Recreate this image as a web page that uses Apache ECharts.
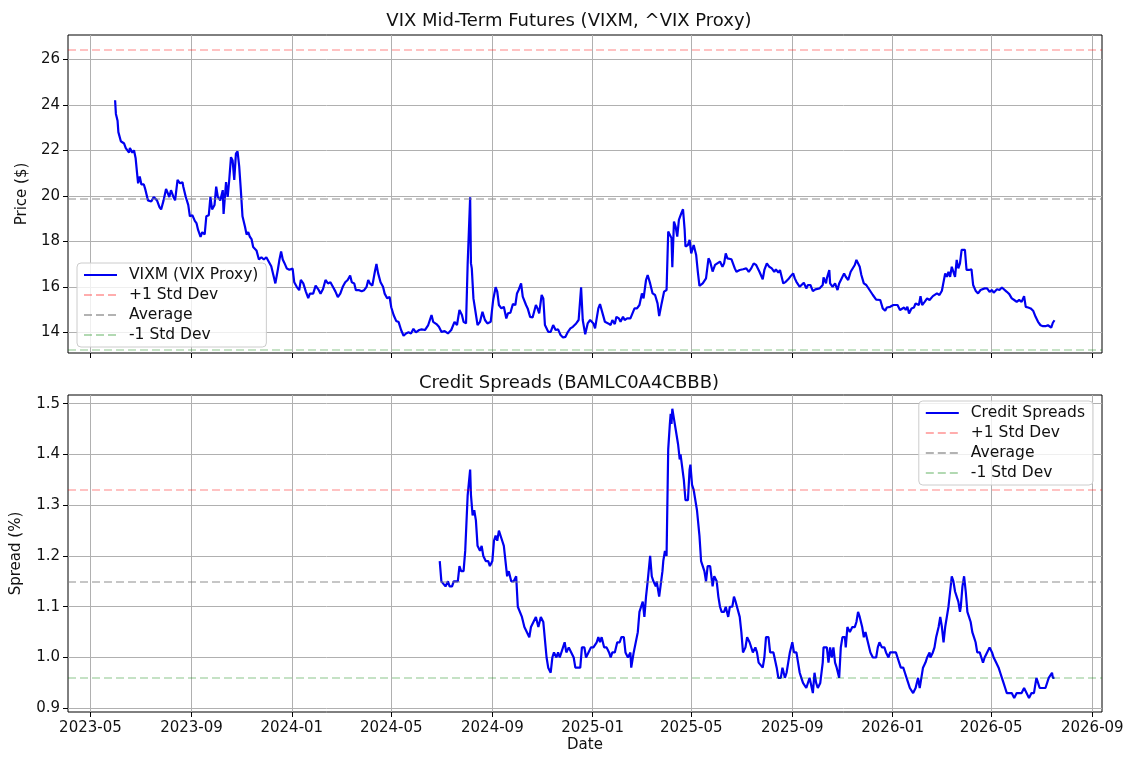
<!DOCTYPE html>
<html>
<head>
<meta charset="utf-8">
<title>VIXM and Credit Spreads</title>
<script src="https://cdn.jsdelivr.net/npm/echarts@6/dist/echarts.min.js"></script>
<style>
  html, body { margin: 0; padding: 0; background: #fff; }
  #chart { width: 1138px; height: 762px; }
</style>
</head>
<body>
<div id="chart"></div>
<script>
// VIXM closing prices (one line per month)
const vixmDates = [
  '2023-05-31',
  '2023-06-01','2023-06-03','2023-06-04','2023-06-07','2023-06-11','2023-06-13','2023-06-17','2023-06-18','2023-06-21','2023-06-23','2023-06-25','2023-06-27','2023-06-28','2023-06-30',
  '2023-07-02','2023-07-05','2023-07-07','2023-07-10','2023-07-14','2023-07-17','2023-07-19','2023-07-21','2023-07-24','2023-07-26','2023-07-29',
  '2023-08-01','2023-08-03','2023-08-05','2023-08-07','2023-08-10','2023-08-12','2023-08-15','2023-08-18','2023-08-21','2023-08-22','2023-08-25','2023-08-28','2023-08-30',
  '2023-09-02','2023-09-05','2023-09-07','2023-09-09','2023-09-12','2023-09-14','2023-09-17','2023-09-19','2023-09-22','2023-09-24','2023-09-26','2023-09-29',
  '2023-10-01','2023-10-03','2023-10-06','2023-10-09','2023-10-10','2023-10-13','2023-10-15','2023-10-17','2023-10-19','2023-10-21','2023-10-23','2023-10-25','2023-10-27','2023-10-29','2023-10-31',
  '2023-11-02','2023-11-05','2023-11-07','2023-11-09','2023-11-11','2023-11-13','2023-11-15','2023-11-19','2023-11-22','2023-11-25','2023-11-28',
  '2023-12-01','2023-12-04','2023-12-07','2023-12-10','2023-12-12','2023-12-15','2023-12-17','2023-12-19','2023-12-21','2023-12-23','2023-12-26','2023-12-29',
  '2024-01-02','2024-01-04','2024-01-07','2024-01-10','2024-01-12','2024-01-15','2024-01-18','2024-01-21','2024-01-23','2024-01-27','2024-01-30',
  '2024-02-02','2024-02-05','2024-02-08','2024-02-11','2024-02-14','2024-02-17','2024-02-20','2024-02-23','2024-02-26','2024-02-29',
  '2024-03-03','2024-03-06','2024-03-09','2024-03-12','2024-03-14','2024-03-17','2024-03-19','2024-03-23','2024-03-26','2024-03-29',
  '2024-04-01','2024-04-03','2024-04-05','2024-04-08','2024-04-11','2024-04-13','2024-04-15','2024-04-18','2024-04-21','2024-04-23','2024-04-26','2024-04-29',
  '2024-05-01','2024-05-04','2024-05-07','2024-05-10','2024-05-13','2024-05-16','2024-05-19','2024-05-22','2024-05-25','2024-05-28','2024-05-31',
  '2024-06-04','2024-06-07','2024-06-11','2024-06-15','2024-06-19','2024-06-21','2024-06-25','2024-06-28',
  '2024-07-01','2024-07-05','2024-07-09','2024-07-13','2024-07-17','2024-07-20','2024-07-23','2024-07-26','2024-07-28','2024-07-31',
  '2024-08-02','2024-08-05','2024-08-06','2024-08-07','2024-08-09','2024-08-11','2024-08-14','2024-08-17','2024-08-20','2024-08-23','2024-08-26','2024-08-30',
  '2024-09-02','2024-09-05','2024-09-07','2024-09-09','2024-09-12','2024-09-15','2024-09-18','2024-09-20','2024-09-23','2024-09-26','2024-09-29',
  '2024-10-01','2024-10-03','2024-10-06','2024-10-08','2024-10-12','2024-10-14','2024-10-17','2024-10-20','2024-10-24','2024-10-26','2024-10-28','2024-10-31',
  '2024-11-02','2024-11-04','2024-11-08','2024-11-11','2024-11-14','2024-11-17','2024-11-20','2024-11-23','2024-11-26','2024-11-29',
  '2024-12-02','2024-12-05','2024-12-08','2024-12-12','2024-12-15','2024-12-18','2024-12-20','2024-12-23','2024-12-26','2024-12-29',
  '2025-01-02','2025-01-04','2025-01-08','2025-01-10','2025-01-12','2025-01-16','2025-01-20','2025-01-23','2025-01-25','2025-01-28','2025-01-30',
  '2025-02-02','2025-02-04','2025-02-07','2025-02-09','2025-02-12','2025-02-16','2025-02-18','2025-02-21','2025-02-24','2025-02-27',
  '2025-03-02','2025-03-04','2025-03-07','2025-03-09','2025-03-12','2025-03-15','2025-03-18','2025-03-21','2025-03-23','2025-03-26','2025-03-29',
  '2025-04-01','2025-04-03','2025-04-05','2025-04-07','2025-04-08','2025-04-10','2025-04-12','2025-04-14','2025-04-16','2025-04-19','2025-04-21','2025-04-23','2025-04-24','2025-04-27','2025-04-29',
  '2025-05-01','2025-05-04','2025-05-07','2025-05-09','2025-05-11','2025-05-15','2025-05-19','2025-05-22','2025-05-24','2025-05-27','2025-05-30',
  '2025-06-01','2025-06-05','2025-06-08','2025-06-10','2025-06-12','2025-06-14','2025-06-16','2025-06-19','2025-06-21','2025-06-23','2025-06-25','2025-06-29',
  '2025-07-03','2025-07-07','2025-07-10','2025-07-13','2025-07-16','2025-07-19','2025-07-21','2025-07-23','2025-07-27','2025-07-29',
  '2025-08-01','2025-08-04','2025-08-07','2025-08-10','2025-08-12','2025-08-15','2025-08-17','2025-08-19','2025-08-21','2025-08-24','2025-08-27','2025-08-30',
  '2025-09-02','2025-09-04','2025-09-06','2025-09-10','2025-09-12','2025-09-15','2025-09-18','2025-09-20','2025-09-23','2025-09-26','2025-09-29',
  '2025-10-01','2025-10-04','2025-10-08','2025-10-09','2025-10-12','2025-10-13','2025-10-16','2025-10-17','2025-10-20','2025-10-23','2025-10-26','2025-10-28','2025-10-31',
  '2025-11-03','2025-11-05','2025-11-08','2025-11-11','2025-11-13','2025-11-16','2025-11-18','2025-11-20','2025-11-22','2025-11-24','2025-11-27','2025-11-30',
  '2025-12-04','2025-12-06','2025-12-08','2025-12-12','2025-12-14','2025-12-17','2025-12-20','2025-12-23','2025-12-25','2025-12-29',
  '2026-01-02','2026-01-04','2026-01-07','2026-01-10','2026-01-12','2026-01-15','2026-01-17','2026-01-19','2026-01-21','2026-01-24','2026-01-27','2026-01-29',
  '2026-02-02','2026-02-04','2026-02-06','2026-02-09','2026-02-12','2026-02-15','2026-02-19','2026-02-21','2026-02-24','2026-02-27',
  '2026-03-02','2026-03-04','2026-03-06','2026-03-08','2026-03-10','2026-03-12','2026-03-14','2026-03-16','2026-03-18','2026-03-20','2026-03-22','2026-03-24','2026-03-26','2026-03-28','2026-03-30',
  '2026-04-01','2026-04-04','2026-04-07','2026-04-09','2026-04-12','2026-04-15','2026-04-18','2026-04-20','2026-04-23','2026-04-26','2026-04-29',
  '2026-05-02','2026-05-04','2026-05-08','2026-05-11','2026-05-14','2026-05-16','2026-05-20','2026-05-23','2026-05-26','2026-05-29',
  '2026-06-01','2026-06-04','2026-06-07','2026-06-10','2026-06-12','2026-06-15','2026-06-18','2026-06-21','2026-06-24','2026-06-27','2026-06-30',
  '2026-07-03','2026-07-06','2026-07-09','2026-07-11','2026-07-13','2026-07-15','2026-07-17'
];
const vixmValues = [
  24.2,
  23.6, 23.3, 22.8, 22.4, 22.3, 22.1, 21.9, 22.1, 21.9, 22.0, 21.65, 20.9, 20.55, 20.85,
  20.5, 20.5, 20.25, 19.8, 19.75, 19.95, 20.0, 19.8, 19.5, 19.4, 19.8,
  20.3, 20.25, 19.95, 20.25, 19.95, 19.8, 20.7, 20.55, 20.6, 20.4, 19.95, 19.6, 19.1,
  19.15, 18.9, 18.8, 18.5, 18.2, 18.4, 18.3, 19.1, 19.15, 19.95, 19.4, 19.6,
  20.4, 19.95, 19.8, 20.25, 19.2, 20.6, 19.95, 20.75, 21.7, 21.55, 20.7, 21.85, 21.95, 21.3, 20.25,
  19.1, 18.65, 18.3, 18.4, 18.2, 18.1, 17.75, 17.6, 17.2, 17.3, 17.2,
  17.3, 17.1, 16.9, 16.45, 16.15, 16.75, 17.2, 17.55, 17.2, 17.05, 16.8, 16.75,
  16.8, 16.2, 16.0, 15.85, 16.3, 16.15, 15.8, 15.5, 15.7, 15.7, 16.05,
  15.9, 15.7, 15.9, 16.3, 16.15, 16.2, 16.0, 15.8, 15.55, 15.7,
  16.0, 16.2, 16.3, 16.5, 16.2, 16.15, 15.85, 15.85, 15.8, 15.85,
  16.0, 16.3, 16.15, 16.05, 16.65, 17.0, 16.6, 16.2, 16.0, 15.7, 15.5, 15.55,
  15.1, 14.75, 14.5, 14.45, 14.1, 13.85, 13.95, 14.0, 13.95, 14.15, 14.0,
  14.1, 14.13, 14.1, 14.32, 14.76, 14.46, 14.36, 14.24,
  14.02, 14.05, 13.95, 14.1, 14.46, 14.32, 14.98, 14.76, 14.46, 14.39,
  17.03, 19.94, 17.03, 16.81, 15.49, 15.42, 14.32, 14.46, 14.9, 14.54, 14.39, 14.46,
  15.42, 15.98, 15.79, 15.2, 15.05, 15.12, 14.61, 14.83, 14.86, 15.24, 15.2,
  15.71, 15.86, 16.15, 15.57, 15.2, 15.05, 14.68, 14.65, 15.2, 15.05, 14.83, 15.64,
  15.49, 14.32, 14.02, 14.02, 14.32, 14.1, 14.13, 13.88, 13.77, 13.8,
  14.02, 14.17, 14.24, 14.39, 14.54, 15.98, 14.54, 13.91, 14.39, 14.54,
  14.39, 14.17, 15.05, 15.24, 15.2, 14.46, 14.39, 14.32, 14.54, 14.36, 14.68,
  14.61, 14.46, 14.68, 14.54, 14.61, 14.61, 14.68, 15.05, 15.05, 15.2,
  15.71, 15.49, 16.3, 16.52, 16.15, 15.71, 15.64, 15.27, 14.71, 15.27, 15.79,
  15.86, 18.43, 18.5, 18.14, 16.86, 18.87, 18.65, 18.21, 18.94, 19.24, 19.41, 18.5, 17.77, 17.84, 18.06,
  17.47, 17.84, 17.4, 16.67, 16.04, 16.15, 16.37, 17.25, 17.11, 16.67, 16.96,
  16.92, 17.11, 16.88, 17.03, 17.47, 17.25, 17.32, 17.21, 17.15, 16.81, 16.66, 16.74,
  16.77, 16.81, 16.66, 16.81, 17.03, 16.96, 17.03, 16.66, 16.33, 16.74,
  17.03, 16.88, 16.81, 16.66, 16.77, 16.62, 16.74, 16.66, 16.15, 16.22, 16.33, 16.47,
  16.59, 16.37, 16.22, 16.0, 15.93, 16.18, 15.93, 16.08, 16.08, 15.81, 15.89,
  15.86, 15.93, 16.08, 16.41, 16.15, 16.37, 16.74, 16.15, 16.0, 16.15, 15.86, 16.15, 16.37,
  16.59, 16.44, 16.3, 16.66, 16.74, 16.96, 17.18, 17.25, 16.88, 16.52, 16.15, 16.08,
  15.86, 15.86, 15.64, 15.44, 15.39, 15.42, 15.05, 14.95, 15.09, 15.12,
  15.2, 15.2, 15.2, 14.98, 14.9, 15.09, 14.98, 15.12, 14.83, 15.05, 15.09, 15.27,
  15.2, 15.59, 15.2, 15.34, 15.49, 15.42, 15.59, 15.53, 15.71, 15.64,
  15.83, 15.78, 16.59, 16.44, 16.66, 16.44, 16.88, 16.81, 16.44, 17.18, 16.81, 17.03, 17.62, 17.65, 17.62,
  16.74, 16.74, 16.77, 16.08, 15.83, 15.71, 15.86, 15.93, 15.93, 15.93, 15.78,
  15.86, 15.74, 15.89, 15.86, 15.97, 15.89, 15.78, 15.68, 15.49, 15.42,
  15.34, 15.42, 15.34, 15.59, 15.12, 15.09, 15.05, 14.95, 14.68, 14.46, 14.31,
  14.27, 14.27, 14.31, 14.31, 14.21, 14.42, 14.53
];

// BBB corporate option-adjusted spread (%)
const spreadDates = [
  '2024-06-29',
  '2024-07-01','2024-07-03','2024-07-06','2024-07-09','2024-07-11','2024-07-14','2024-07-16','2024-07-21','2024-07-23','2024-07-25','2024-07-28','2024-07-30',
  '2024-08-02','2024-08-05','2024-08-06','2024-08-08','2024-08-10','2024-08-12','2024-08-14','2024-08-17','2024-08-19','2024-08-21','2024-08-24','2024-08-27','2024-08-29',
  '2024-09-01','2024-09-03','2024-09-05','2024-09-07','2024-09-09','2024-09-11','2024-09-13','2024-09-15','2024-09-17','2024-09-19','2024-09-21','2024-09-24','2024-09-27','2024-09-30',
  '2024-10-02','2024-10-04','2024-10-07','2024-10-10','2024-10-12','2024-10-16','2024-10-18','2024-10-21','2024-10-24','2024-10-27','2024-10-30',
  '2024-11-02','2024-11-04','2024-11-06','2024-11-08','2024-11-11','2024-11-13','2024-11-15','2024-11-18','2024-11-20','2024-11-22','2024-11-26','2024-11-28','2024-11-30',
  '2024-12-03','2024-12-06','2024-12-09','2024-12-11','2024-12-14','2024-12-17','2024-12-19','2024-12-22','2024-12-24','2024-12-27','2024-12-30',
  '2025-01-02','2025-01-06','2025-01-08','2025-01-10','2025-01-12','2025-01-15','2025-01-18','2025-01-21','2025-01-23','2025-01-25','2025-01-28','2025-01-31',
  '2025-02-03','2025-02-05','2025-02-08','2025-02-10','2025-02-13','2025-02-16','2025-02-17','2025-02-20','2025-02-22','2025-02-25','2025-02-27',
  '2025-03-01','2025-03-03','2025-03-05','2025-03-07','2025-03-09','2025-03-12','2025-03-14','2025-03-16','2025-03-19','2025-03-20','2025-03-23','2025-03-25','2025-03-27','2025-03-28','2025-03-30',
  '2025-04-01','2025-04-03','2025-04-05','2025-04-06','2025-04-07','2025-04-08','2025-04-10','2025-04-12','2025-04-15','2025-04-17','2025-04-18','2025-04-20','2025-04-22','2025-04-24','2025-04-27','2025-04-29','2025-04-30',
  '2025-05-02','2025-05-04','2025-05-06','2025-05-08','2025-05-11','2025-05-13','2025-05-15','2025-05-17','2025-05-19','2025-05-21','2025-05-24','2025-05-27','2025-05-29',
  '2025-06-01','2025-06-03','2025-06-05','2025-06-07','2025-06-10','2025-06-12','2025-06-15','2025-06-17','2025-06-20','2025-06-22','2025-06-24','2025-06-26','2025-06-29',
  '2025-07-01','2025-07-03','2025-07-06','2025-07-08','2025-07-11','2025-07-13','2025-07-15','2025-07-18','2025-07-20','2025-07-22','2025-07-24','2025-07-27','2025-07-29','2025-07-31',
  '2025-08-03','2025-08-05','2025-08-09','2025-08-11','2025-08-13','2025-08-15','2025-08-18','2025-08-20','2025-08-23','2025-08-25','2025-08-27','2025-08-29',
  '2025-09-01','2025-09-03','2025-09-06','2025-09-08','2025-09-10','2025-09-12','2025-09-14','2025-09-16','2025-09-18','2025-09-20','2025-09-22','2025-09-24','2025-09-26','2025-09-28','2025-09-30',
  '2025-10-02','2025-10-05','2025-10-08','2025-10-09','2025-10-13','2025-10-15','2025-10-17','2025-10-19','2025-10-21','2025-10-23','2025-10-25','2025-10-28','2025-10-30',
  '2025-11-01','2025-11-04','2025-11-05','2025-11-07','2025-11-10','2025-11-13','2025-11-16','2025-11-18','2025-11-20','2025-11-22','2025-11-25','2025-11-27','2025-11-29',
  '2025-12-02','2025-12-05','2025-12-08','2025-12-12','2025-12-14','2025-12-16','2025-12-19','2025-12-22','2025-12-24','2025-12-27','2025-12-29',
  '2026-01-02','2026-01-05','2026-01-07','2026-01-09','2026-01-11','2026-01-14','2026-01-16','2026-01-18','2026-01-20','2026-01-22','2026-01-26','2026-01-29',
  '2026-02-01','2026-02-03','2026-02-05','2026-02-07','2026-02-09','2026-02-10','2026-02-12','2026-02-15','2026-02-16','2026-02-19','2026-02-21','2026-02-23','2026-02-26','2026-02-28',
  '2026-03-02','2026-03-04','2026-03-06','2026-03-08','2026-03-10','2026-03-12','2026-03-14','2026-03-16','2026-03-18','2026-03-20','2026-03-22','2026-03-24','2026-03-25','2026-03-27','2026-03-29','2026-03-31',
  '2026-04-02','2026-04-04','2026-04-06','2026-04-08','2026-04-10','2026-04-12','2026-04-14','2026-04-17','2026-04-19','2026-04-21','2026-04-23','2026-04-26','2026-04-29',
  '2026-05-02','2026-05-04','2026-05-07','2026-05-10','2026-05-12','2026-05-14','2026-05-16','2026-05-18','2026-05-20','2026-05-23','2026-05-26','2026-05-29',
  '2026-06-01','2026-06-04','2026-06-07','2026-06-10','2026-06-13','2026-06-16','2026-06-19','2026-06-22','2026-06-25','2026-06-27','2026-06-29',
  '2026-07-03','2026-07-06','2026-07-08','2026-07-10','2026-07-12','2026-07-14','2026-07-15','2026-07-17'
];
const spreadValues = [
  1.19,
  1.15, 1.15, 1.14, 1.15, 1.14, 1.14, 1.15, 1.15, 1.18, 1.17, 1.17, 1.21,
  1.32, 1.37, 1.32, 1.28, 1.29, 1.27, 1.22, 1.21, 1.22, 1.20, 1.19, 1.19, 1.18,
  1.19, 1.23, 1.24, 1.23, 1.25, 1.25, 1.23, 1.22, 1.19, 1.16, 1.17, 1.15, 1.15, 1.16,
  1.10, 1.10, 1.08, 1.06, 1.06, 1.04, 1.06, 1.07, 1.08, 1.06, 1.08,
  1.07, 1.07, 1.00, 0.98, 0.97, 1.00, 1.01, 1.00, 1.01, 1.00, 1.02, 1.03, 1.01,
  1.02, 1.01, 1.00, 0.98, 0.98, 0.98, 1.02, 1.02, 1.00, 1.01, 1.02,
  1.02, 1.03, 1.04, 1.03, 1.04, 1.02, 1.02, 1.01, 1.00, 1.01, 1.01, 1.03,
  1.03, 1.04, 1.04, 1.01, 1.00, 1.01, 0.98, 1.01, 1.01, 1.05, 1.09,
  1.10, 1.11, 1.08, 1.12, 1.15, 1.20, 1.16, 1.15, 1.14, 1.15, 1.12, 1.12, 1.17, 1.19, 1.21,
  1.20, 1.41, 1.46, 1.48, 1.46, 1.49, 1.47, 1.45, 1.42, 1.39, 1.40, 1.40, 1.35, 1.31, 1.31, 1.37, 1.38,
  1.34, 1.33, 1.33, 1.29, 1.24, 1.19, 1.18, 1.17, 1.15, 1.18, 1.18, 1.14, 1.16,
  1.15, 1.12, 1.10, 1.09, 1.09, 1.10, 1.08, 1.10, 1.10, 1.12, 1.11, 1.11, 1.08,
  1.05, 1.01, 1.02, 1.04, 1.03, 1.03, 1.01, 1.02, 1.01, 0.99, 0.99, 0.98, 1.00, 1.04,
  1.04, 1.01, 1.01, 1.01, 0.98, 0.96, 0.96, 0.98, 0.96, 0.97, 0.99, 1.01,
  1.03, 1.01, 1.01, 0.99, 0.97, 0.96, 0.95, 0.95, 0.94, 0.94, 0.96, 0.96, 0.93, 0.97, 0.95,
  0.94, 0.95, 0.99, 1.02, 1.02, 0.99, 1.02, 1.00, 1.02, 0.99, 0.98, 0.96, 1.02,
  1.04, 1.04, 1.02, 1.06, 1.05, 1.06, 1.06, 1.07, 1.09, 1.08, 1.06, 1.04, 1.05,
  1.03, 1.01, 1.00, 1.00, 1.02, 1.03, 1.02, 1.02, 1.01, 1.00, 1.01,
  1.01, 1.01, 1.00, 0.99, 0.98, 0.98, 0.97, 0.96, 0.95, 0.94, 0.93, 0.94,
  0.96, 0.94, 0.96, 0.98, 0.98, 0.99, 1.00, 1.01, 1.00, 1.01, 1.02, 1.04, 1.06, 1.08,
  1.06, 1.03, 1.06, 1.06, 1.10, 1.13, 1.16, 1.15, 1.13, 1.12, 1.11, 1.09, 1.10, 1.14, 1.16, 1.13,
  1.09, 1.08, 1.07, 1.05, 1.04, 1.03, 1.01, 1.01, 1.00, 0.99, 1.00, 1.01, 1.02,
  1.01, 1.00, 0.99, 0.98, 0.97, 0.96, 0.95, 0.94, 0.93, 0.93, 0.93, 0.92,
  0.93, 0.93, 0.93, 0.94, 0.93, 0.92, 0.93, 0.93, 0.96, 0.95, 0.94,
  0.94, 0.94, 0.94, 0.96, 0.96, 0.97, 0.96, 0.96
];

// horizontal reference lines: +1 std, mean, -1 std
const bandNames = ['+1 Std Dev', 'Average', '-1 Std Dev'];
const vixmBands = [26.44, 19.85, 13.24];
const spreadBands = [1.331, 1.147, 0.964];

const monthTicks = ['2023-05-01', '2023-09-01', '2024-01-01', '2024-05-01', '2024-09-01', '2025-01-01',
  '2025-05-01', '2025-09-01', '2026-01-01', '2026-05-01', '2026-09-01'];
const priceTicks = [14, 16, 18, 20, 22, 24, 26];
const spreadTicks = [0.9, 1.0, 1.1, 1.2, 1.3, 1.4, 1.5];

const FONT = 'DejaVu Sans';
const DAY = 86400000;
const bandColors = ['rgba(255,0,0,0.32)', 'rgba(128,128,128,0.6)', 'rgba(0,128,0,0.3)'];

function toTime(s) {
  const [y, m, d] = s.split('-').map(Number);
  return new Date(y, m - 1, d).getTime();
}
function fmtMonth(t) {
  const d = new Date(t);
  return d.getFullYear() + '-' + String(d.getMonth() + 1).padStart(2, '0');
}

// dates are plotted as timestamps on a plain value axis so the tick dates can be fixed
const xMin = toTime('2023-05-01') - 27.3 * DAY;
const xMax = toTime('2026-09-01') + 11.8 * DAY;
const tickTimes = monthTicks.map(toTime);

const grids = [
  { left: 68, right: 36, top: 35, height: 318 },
  { left: 68, right: 36, top: 395, height: 317 }
].map(g => Object.assign(g, { show: true, borderColor: '#000', borderWidth: 1, backgroundColor: 'transparent' }));

const tickText = { fontFamily: FONT, fontSize: 15, color: '#111' };

function makeX(gridIndex, showLabels) {
  return {
    type: 'value', gridIndex, min: xMin, max: xMax,
    name: showLabels ? 'Date' : '', nameLocation: 'middle', nameGap: 26,
    nameTextStyle: tickText,
    axisLine: { show: false, onZero: false },
    axisTick: { show: true, length: 5, customValues: tickTimes, lineStyle: { color: '#000', width: 1 } },
    axisLabel: Object.assign({ show: showLabels, margin: 9, customValues: tickTimes, formatter: fmtMonth }, tickText),
    splitLine: { show: true, lineStyle: { color: '#b0b0b0', width: 1 } }
  };
}
function makeY(gridIndex, min, max, ticks, digits, name, gap) {
  return {
    type: 'value', gridIndex, min, max,
    name, nameLocation: 'middle', nameGap: gap, nameTextStyle: tickText,
    axisLine: { show: false },
    axisTick: { show: true, length: 5, customValues: ticks, lineStyle: { color: '#000', width: 1 } },
    axisLabel: Object.assign({ margin: 8, customValues: ticks, formatter: v => v.toFixed(digits) }, tickText),
    splitLine: { show: true, lineStyle: { color: '#b0b0b0', width: 1 } }
  };
}

function mainSeries(name, idx, dates, values) {
  return {
    name, type: 'line', xAxisIndex: idx, yAxisIndex: idx,
    data: dates.map((d, i) => [toTime(d), values[i]]),
    symbol: 'none', color: '#0000f0',
    lineStyle: { color: '#0000f0', width: 2.2 }, z: 3
  };
}
function bandSeries(idx, values) {
  return values.map((v, i) => ({
    name: bandNames[i], type: 'line', xAxisIndex: idx, yAxisIndex: idx,
    data: [], symbol: 'none', color: bandColors[i],
    lineStyle: { color: bandColors[i], width: 1.5, type: [8, 4] },
    markLine: {
      silent: true, symbol: ['none', 'none'], label: { show: false },
      lineStyle: { color: bandColors[i], width: 1.5, type: [8, 4] },
      data: [{ yAxis: v }]
    }
  }));
}

const legendBase = {
  orient: 'vertical', itemWidth: 33, itemHeight: 12, itemGap: 4,
  padding: [4, 8, 4, 6], selectedMode: false,
  itemStyle: { opacity: 0 },
  backgroundColor: 'rgba(255,255,255,0.8)', borderColor: '#cccccc', borderWidth: 1, borderRadius: 4,
  textStyle: { fontFamily: FONT, fontSize: 15.5, color: '#111', padding: [0, 0, 0, 7] }
};
const titleText = { fontFamily: FONT, fontSize: 18, fontWeight: 'normal', color: '#111' };

const chart = echarts.init(document.getElementById('chart'));
chart.setOption({
  animation: false,
  backgroundColor: '#fff',
  textStyle: { fontFamily: FONT },
  title: [
    { text: 'VIX Mid-Term Futures (VIXM, ^VIX Proxy)', left: 'center', top: 12, padding: [0, 0, 0, 32], textStyle: titleText },
    { text: 'Credit Spreads (BAMLC0A4CBBB)', left: 'center', top: 374, padding: [0, 0, 0, 32], textStyle: titleText }
  ],
  legend: [
    Object.assign({ left: 77, top: 263, data: ['VIXM (VIX Proxy)'].concat(bandNames) }, legendBase),
    Object.assign({ right: 45, top: 401, data: ['Credit Spreads'].concat(bandNames) }, legendBase)
  ],
  grid: grids,
  xAxis: [makeX(0, false), makeX(1, true)],
  yAxis: [
    makeY(0, 13.09, 27.07, priceTicks, 0, 'Price ($)', 38),
    makeY(1, 0.8927, 1.517, spreadTicks, 1, 'Spread (%)', 44)
  ],
  series: [
    mainSeries('VIXM (VIX Proxy)', 0, vixmDates, vixmValues),
    ...bandSeries(0, vixmBands),
    mainSeries('Credit Spreads', 1, spreadDates, spreadValues),
    ...bandSeries(1, spreadBands)
  ]
});
</script>
</body>
</html>
